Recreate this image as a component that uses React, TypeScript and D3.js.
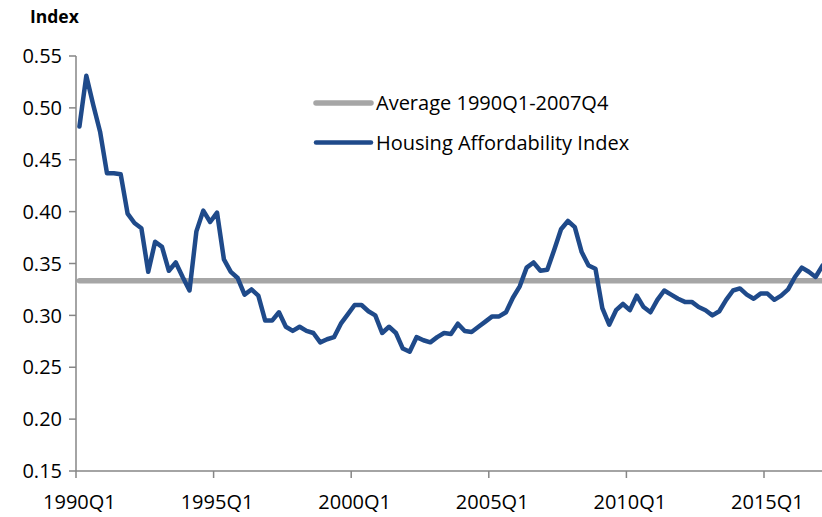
import React from "react";
import { scaleLinear, line, range } from "d3";

const width = 822;
const height = 517;

// quarterly index, 1990Q1 onwards
const affordability = [
  0.482, 0.531, 0.503, 0.477, 0.437, 0.437, 0.436, 0.398, 0.389, 0.384,
  0.342, 0.371, 0.366, 0.343, 0.351, 0.337, 0.324, 0.381, 0.401, 0.39,
  0.399, 0.354, 0.342, 0.336, 0.32, 0.325, 0.319, 0.295, 0.295, 0.303,
  0.289, 0.285, 0.289, 0.285, 0.283, 0.274, 0.277, 0.279, 0.292, 0.301,
  0.31, 0.31, 0.304, 0.3, 0.283, 0.289, 0.283, 0.268, 0.265, 0.279,
  0.276, 0.274, 0.279, 0.283, 0.282, 0.292, 0.285, 0.284, 0.289, 0.294,
  0.299, 0.299, 0.303, 0.317, 0.328, 0.346, 0.351, 0.343, 0.344, 0.363,
  0.383, 0.391, 0.385, 0.361, 0.348, 0.345, 0.307, 0.291, 0.305, 0.311,
  0.305, 0.319, 0.308, 0.303, 0.315, 0.324, 0.32, 0.316, 0.313, 0.313,
  0.308, 0.305, 0.3, 0.304, 0.315, 0.324, 0.326, 0.32, 0.316, 0.321,
  0.321, 0.315, 0.319, 0.325, 0.337, 0.346, 0.342, 0.337, 0.348,
];
const average = 0.3334;

const quarters = affordability.map(
  (_, i) => `${1990 + Math.floor(i / 4)}Q${(i % 4) + 1}`
);
const xTickLabels = ["1990Q1", "1995Q1", "2000Q1", "2005Q1", "2010Q1", "2015Q1"];
const yTicks = [0.15, 0.2, 0.25, 0.3, 0.35, 0.4, 0.45, 0.5, 0.55];

const legendItems = [
  { label: "Average 1990Q1-2007Q4", color: "#a6a6a6", w: 5.5 },
  { label: "Housing Affordability Index", color: "#1f4a8a", w: 4.5 },
];

const axisX = 76;
const step = 6.88;
const nCats = 112;

const x = scaleLinear().domain([0, nCats]).range([axisX, axisX + nCats * step]);
const y = scaleLinear().domain([0.15, 0.55]).range([471, 56]);

const valueLine = line<number>()
  .x((_, i) => x(i + 0.5))
  .y((d) => y(d));

const font = "'Open Sans', 'Noto Sans', sans-serif";
const axisColor = "#868686";

const App = () => (
  <svg
    width={width}
    height={height}
    style={{ position: "absolute", left: 0, top: 0, background: "#fff" }}
    fontFamily={font}
  >
    <text x={30} y={23} fontSize={17.5} fontWeight="bold" fill="#000">
      Index
    </text>

    {/* average line */}
    <line
      x1={x(0.5)}
      x2={x(affordability.length + 2)}
      y1={y(average)}
      y2={y(average)}
      stroke="#a6a6a6"
      strokeWidth={5.5}
      strokeLinecap="round"
    />

    <path
      d={valueLine(affordability) || ""}
      fill="none"
      stroke="#1f4a8a"
      strokeWidth={4.5}
      strokeLinejoin="round"
      strokeLinecap="round"
    />

    {/* y axis */}
    <line x1={axisX} x2={axisX} y1={y(0.55)} y2={y(0.15)} stroke={axisColor} strokeWidth={1.5} />
    {yTicks.map((t) => (
      <g key={t}>
        <line x1={axisX - 7} x2={axisX} y1={y(t)} y2={y(t)} stroke={axisColor} strokeWidth={1.5} />
        <text x={62} y={y(t)} dy="0.36em" textAnchor="end" fontSize={20} fill="#000">
          {t.toFixed(2)}
        </text>
      </g>
    ))}

    {/* x axis */}
    <line x1={axisX} x2={width} y1={y(0.15)} y2={y(0.15)} stroke={axisColor} strokeWidth={1.5} />
    {range(0, xTickLabels.length).map((k) => (
      <g key={k}>
        <line
          x1={x(k * 20)}
          x2={x(k * 20)}
          y1={y(0.15)}
          y2={y(0.15) + 7}
          stroke={axisColor}
          strokeWidth={1.5}
        />
        <text x={x(k * 20 + 0.5)} y={509} textAnchor="middle" fontSize={20} fill="#000">
          {xTickLabels[k]}
        </text>
      </g>
    ))}

    {/* legend */}
    {legendItems.map((d, i) => (
      <g key={d.label} transform={`translate(316, ${103 + i * 39.5})`}>
        <line x1={0} x2={55} y1={0} y2={0} stroke={d.color} strokeWidth={d.w} strokeLinecap="round" />
        <text x={60} y={0} dy="0.36em" fontSize={20} fill="#000">
          {d.label}
        </text>
      </g>
    ))}
    <desc>{quarters.join(",")}</desc>
  </svg>
);

export default App;
